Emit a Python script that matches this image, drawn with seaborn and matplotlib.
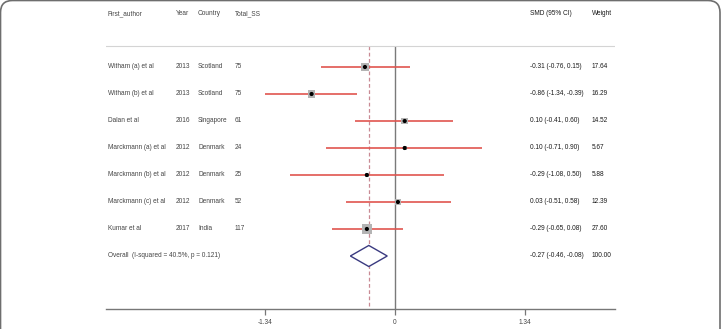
import numpy as np
import pandas as pd
import seaborn as sns
import matplotlib.pyplot as plt
from matplotlib.patches import FancyBboxPatch

#%% data
Authors   = ["Witham (a) et al", "Witham (b) et al", "Dalan et al", "Marckmann (a) et al",
             "Marckmann (b) et al", "Marckmann (c) et al", "Kumar et al"]
Years     = [2013, 2013, 2016, 2012, 2012, 2012, 2017]
Countries = ["Scotland", "Scotland", "Singapore", "Denmark", "Denmark", "Denmark", "India"]
Total_SS  = [75, 75, 61, 24, 25, 52, 117]
SMD       = [-0.31, -0.86, 0.10, 0.10, -0.29, 0.03, -0.29]
CI_Low    = [-0.76, -1.34, -0.41, -0.71, -1.08, -0.51, -0.65]
CI_High   = [0.15, -0.39, 0.60, 0.90, 0.50, 0.58, 0.08]
Weights   = [17.64, 16.29, 14.52, 5.67, 5.88, 12.39, 27.60]

Overall_SMD    = -0.27
Overall_Low    = -0.46
Overall_High   = -0.08
Overall_Weight = 100.00
Overall_Label  = "Overall  (I-squared = 40.5%, p = 0.121)"

Header_Left  = ["First_author", "Year", "Country", "Total_SS"]
Header_Right = ["SMD (95% CI)", "Weight"]

XTicks      = [-1.34, 0, 1.34]
XTickLabels = ["-1.34", "0", "1.34"]

df = pd.DataFrame({"Author": Authors, "Year": Years, "Country": Countries,
                   "Total_SS": Total_SS, "SMD": SMD, "Low": CI_Low,
                   "High": CI_High, "Weight": Weights})
df["Row"] = np.arange(len(df))

#%% style
Fig_Width  = 7.24
Fig_Height = 3.29
FontName   = ["Liberation Sans", "DejaVu Sans"]
FontSize   = 4.7

Col_X_Left  = [-2.96, -2.26, -2.03, -1.65]
Col_X_Right = [1.39, 2.03]

Color_CI      = "#e0554f"
Color_Square  = "#b4b4b4"
Color_Dash    = "#c98a94"
Color_Zero    = "#7a7a7a"
Color_Diamond = "#3a3a80"
Color_Axis    = "#777777"
Color_TextL   = "#444444"
Color_TextR   = "#1a1a1a"

Y_Header  = -1.98
Y_Rule    = -0.78
Y_Bottom  = 8.963
Y_Top     = -2.296
Y_Overall = len(df)

plt.rcParams["font.family"] = FontName

Fig = plt.figure(figsize=[Fig_Width, Fig_Height], dpi=100)
ax = Fig.add_axes([106/724, 20/329, 509/724, 304/329])

# reference lines
ax.vlines(0, Y_Rule, Y_Bottom, color=Color_Zero, linewidth=1.0, zorder=1)
ax.vlines(Overall_SMD, Y_Rule, Y_Bottom, color=Color_Dash, linewidth=0.9,
          linestyles=(0, (3, 2)), zorder=1)
ax.hlines(Y_Rule, -3.2, 2.5, color="#d4d4d4", linewidth=0.8, zorder=1)

# CI lines
ax.hlines(df["Row"], df["Low"], df["High"], color=Color_CI, linewidth=1.2, zorder=2)

# weight squares
sns.scatterplot(ax=ax, data=df, x="SMD", y="Row", size="Weight",
                sizes=(0, 48), size_norm=(0, 27.6), marker="s",
                color=Color_Square, edgecolor="none", legend=False, zorder=3)

# point estimates
sns.scatterplot(ax=ax, data=df, x="SMD", y="Row", color="k", s=9,
                edgecolor="none", legend=False, zorder=4)

# overall diamond
Dia_H = 0.39
ax.fill([Overall_Low, Overall_SMD, Overall_High, Overall_SMD],
        [Y_Overall, Y_Overall - Dia_H, Y_Overall, Y_Overall + Dia_H],
        facecolor="white", edgecolor=Color_Diamond, linewidth=1.0, zorder=4)

# header texts
for x, t in zip(Col_X_Left, Header_Left):
    ax.text(x, Y_Header, t, fontsize=FontSize, color=Color_TextL, va="center", ha="left")
for x, t in zip(Col_X_Right, Header_Right):
    ax.text(x, Y_Header, t, fontsize=FontSize, color=Color_TextR, va="center", ha="left")

# row texts
for i, r in df.iterrows():
    vals = [r["Author"], str(r["Year"]), r["Country"], str(r["Total_SS"])]
    for x, t in zip(Col_X_Left, vals):
        ax.text(x, r["Row"], t, fontsize=FontSize, color=Color_TextL, va="center", ha="left")
    ci = "%.2f (%.2f, %.2f)" % (r["SMD"], r["Low"], r["High"])
    ax.text(Col_X_Right[0], r["Row"], ci, fontsize=FontSize, color=Color_TextR, va="center", ha="left")
    ax.text(Col_X_Right[1], r["Row"], "%.2f" % r["Weight"], fontsize=FontSize,
            color=Color_TextR, va="center", ha="left")

ax.text(Col_X_Left[0], Y_Overall, Overall_Label, fontsize=FontSize, color=Color_TextL,
        va="center", ha="left")
ax.text(Col_X_Right[0], Y_Overall,
        "%.2f (%.2f, %.2f)" % (Overall_SMD, Overall_Low, Overall_High),
        fontsize=FontSize, color=Color_TextR, va="center", ha="left")
ax.text(Col_X_Right[1], Y_Overall, "%.2f" % Overall_Weight, fontsize=FontSize,
        color=Color_TextR, va="center", ha="left")

# axes
ax.set_xlim(-289/97, 220/97)
ax.set_ylim(Y_Bottom, Y_Top)
ax.set_xticks(XTicks)
ax.set_xticklabels(XTickLabels, fontsize=FontSize, color=Color_TextL)
ax.set_yticks([])
ax.set_xlabel("")
ax.set_ylabel("")
ax.spines[["left", "top", "right"]].set_visible(False)
ax.spines["bottom"].set_color(Color_Axis)
ax.spines["bottom"].set_linewidth(1.0)
ax.tick_params(axis="x", direction="out", length=4, width=0.9, color=Color_Axis, pad=3)
ax.patch.set_alpha(0)

# frame (pixel coordinates, bottom edge below the image)
Frame = FancyBboxPatch((0.5, -40), 719.5, 368.5,
                       boxstyle="round,pad=0,rounding_size=12",
                       transform=None, facecolor="none",
                       edgecolor="#6e6e6e", linewidth=1.2)
Fig.patches.append(Frame)

Fig.savefig("out.png", dpi=100)
